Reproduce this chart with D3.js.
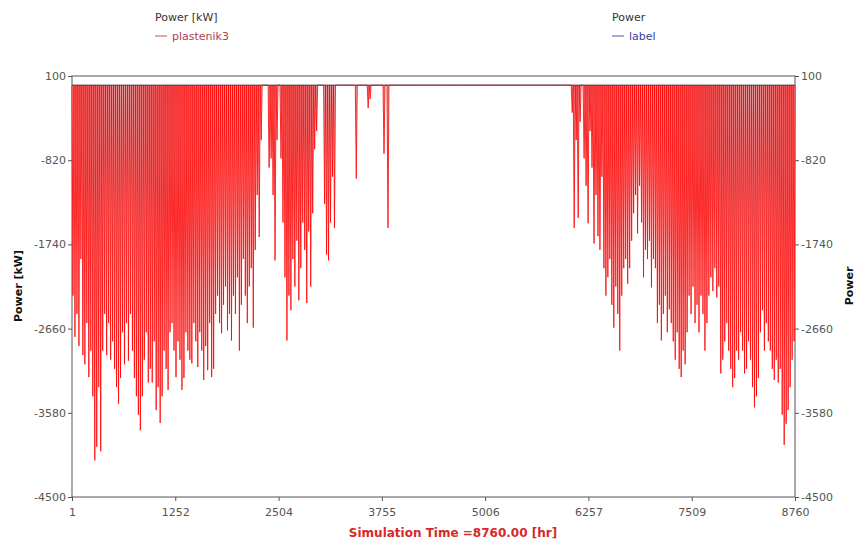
<!DOCTYPE html>
<html><head><meta charset="utf-8">
<script src="https://cdn.jsdelivr.net/npm/d3@7"></script>
<style>
html,body{margin:0;padding:0;background:#fff;}
svg{display:block;font-family:"DejaVu Sans",Verdana,sans-serif;}
</style></head>
<body>
<svg id="chart" width="856" height="540"></svg>
<script>
// ---- data ----
const xTickLabels = ["1","1252","2504","3755","5006","6257","7509","8760"];
const yTickLabels = ["100","-820","-1740","-2660","-3580","-4500"];
const xDomain = [1, 8760];
const yDomain = [-4500, 100];
// daily peak heating power of "plastenik3" [kW], one value per day (365 days)
const dailyPeakKW = [
  -2300,-2750,-2500,-2850,-1900,-2950,-3050,-2600,-3190,-2900,
  -3400,-4100,-3950,-3300,-4000,-2900,-2500,-2950,-2600,-3000,
  -2800,-3100,-3300,-3480,-3200,-2700,-3050,-2600,-3010,-2500,
  -2900,-3200,-3400,-3600,-3770,-3400,-3000,-2700,-3250,-3100,
  -3250,-2800,-3550,-3300,-3690,-3400,-2900,-3100,-3330,-2700,
  -2600,-2900,-3190,-2800,-3000,-3330,-3200,-2700,-2900,-3000,
  -3040,-2600,-2800,-3080,-2700,-2900,-3220,-2850,-3115,-2600,
  -3190,-3100,-2500,-2300,-2600,-2710,-2400,-2200,-2680,-2500,
  -2790,-2300,-2500,-2100,-2900,-2400,-1900,-2300,-2600,-2200,
  -2000,-2650,-1800,-1200,-1660,-600,0,0,0,-900,
  -800,-1200,-1915,-600,0,-800,-1500,-2100,-2790,-2300,
  -2460,-1900,-2200,-1700,-2350,-2000,-1500,-1800,-2380,-1600,
  -2200,-1400,-700,-500,0,0,0,-1300,-1850,-1915,
  -1500,-1000,-1560,0,0,0,0,0,0,0,
  0,0,0,-1020,0,0,0,0,0,-250,
  -150,0,0,0,0,0,0,-750,0,-1560,
  0,0,0,0,0,0,0,0,0,0,
  0,0,0,0,0,0,0,0,0,0,
  0,0,0,0,0,0,0,0,0,0,
  0,0,0,0,0,0,0,0,0,0,
  0,0,0,0,0,0,0,0,0,0,
  0,0,0,0,0,0,0,0,0,0,
  0,0,0,0,0,0,0,0,0,0,
  0,0,0,0,0,0,0,0,0,0,
  0,0,0,0,0,0,0,0,0,0,
  0,0,-300,-1560,-600,-1450,-400,0,-800,-1100,
  -1510,-500,-900,-1730,-1200,-1650,-1800,-1000,-2000,-2300,
  -2100,-1900,-2400,-2650,-2200,-2500,-2900,-2300,-2000,-1900,
  -2170,-2000,-1700,-1400,-1200,-1620,-1100,-1500,-2100,-1800,
  -1900,-1700,-2210,-1900,-2000,-2600,-2400,-2790,-2500,-2300,
  -2700,-2450,-2600,-2800,-3000,-2700,-3100,-3190,-2900,-3050,
  -2700,-2300,-2500,-2200,-2600,-2400,-2700,-2300,-2500,-2900,
  -2600,-2300,-2100,-2250,-2000,-2320,-2200,-3150,-3000,-2800,
  -2600,-2900,-3100,-3300,-3200,-2900,-3000,-2700,-2900,-3150,
  -3100,-2800,-3000,-3300,-3520,-3400,-3200,-2700,-2460,-2900,
  -2600,-2800,-2900,-3100,-3220,-3000,-3250,-3100,-3600,-3930,
  -3700,-3550,-3300,-3000,-2800
];
// second series "label" (right axis): constant level
const labelHours = [1, 8760];
const labelValues = [0, 0];

// ---- layout ----
const svg = d3.select("#chart");
const L = 72, R = 795, T = 76, B = 497;
const x = d3.scaleLinear().domain(xDomain).range([L, R]);
const y = d3.scaleLinear().domain(yDomain).range([B, T]);

// frame
svg.append("rect").attr("x", L).attr("y", T).attr("width", R - L).attr("height", B - T)
  .attr("fill", "#fff").attr("stroke", "#555").attr("stroke-width", 1);

// series plastenik3 : one night-time heating peak per day
const pts = [];
dailyPeakKW.forEach((v, d) => {
  pts.push([d * 24 + 1, 0]);
  pts.push([d * 24 + 13, v]);
});
pts.push([8760, 0]);
const line = d3.line().x(p => x(p[0])).y(p => y(p[1]));
const area = d3.area().x(p => x(p[0])).y0(y(0)).y1(p => y(p[1]));
svg.append("path").datum(pts).attr("d", area)
  .attr("fill", "#e0a0a2").attr("stroke", "none");
svg.append("path").datum(pts).attr("d", line)
  .attr("fill", "none").attr("stroke", "#ff0000").attr("stroke-width", 0.8);

// series label
svg.append("path").datum(labelHours.map((h, i) => [h, labelValues[i]])).attr("d", line)
  .attr("fill", "none").attr("stroke", "#3a3a4a").attr("stroke-width", 1);

// axes
const yTickVals = yTickLabels.map(Number);
const xTickVals = xTickLabels.map(Number);
const axL = d3.axisLeft(y).tickValues(yTickVals).tickFormat((d, i) => yTickLabels[i]).tickSize(4).tickPadding(2);
const axR = d3.axisRight(y).tickValues(yTickVals).tickFormat((d, i) => yTickLabels[i]).tickSize(4).tickPadding(2);
const axB = d3.axisBottom(x).tickValues(xTickVals).tickFormat((d, i) => xTickLabels[i]).tickSize(4).tickPadding(7);
function styleAxis(g) {
  g.select(".domain").remove();
  g.selectAll(".tick line").attr("stroke", "#555");
  g.selectAll("text").attr("fill", "#555").style("font-size", "11px").style("font-family", "'DejaVu Sans',Verdana,sans-serif");
}
svg.append("g").attr("transform", `translate(${L},0)`).call(axL).call(styleAxis);
svg.append("g").attr("transform", `translate(${R},0)`).call(axR).call(styleAxis);
svg.append("g").attr("transform", `translate(0,${B})`).call(axB).call(styleAxis);

// axis titles
svg.append("text").attr("transform", "translate(22,286) rotate(-90)").attr("text-anchor", "middle")
  .style("font-size", "11px").style("font-weight", "bold").attr("fill", "#111").text("Power [kW]");
svg.append("text").attr("transform", "translate(853,286) rotate(-90)").attr("text-anchor", "middle")
  .style("font-size", "11px").style("font-weight", "bold").attr("fill", "#111").text("Power");
svg.append("text").attr("x", 453).attr("y", 537).attr("text-anchor", "middle")
  .style("font-size", "12px").style("font-weight", "bold").attr("fill", "#d42a2a")
  .text("Simulation Time =8760.00 [hr]");

// legends
svg.append("text").attr("x", 155).attr("y", 21).style("font-size", "11px").attr("fill", "#333").text("Power [kW]");
svg.append("line").attr("x1", 155).attr("x2", 167).attr("y1", 36).attr("y2", 36).attr("stroke", "#c05060");
svg.append("text").attr("x", 172).attr("y", 40).style("font-size", "11px").attr("fill", "#b04050").text("plastenik3");
svg.append("text").attr("x", 612).attr("y", 21).style("font-size", "11px").attr("fill", "#333").text("Power");
svg.append("line").attr("x1", 612).attr("x2", 624).attr("y1", 36).attr("y2", 36).attr("stroke", "#5050a0");
svg.append("text").attr("x", 629).attr("y", 40).style("font-size", "11px").attr("fill", "#4040a0").text("label");
</script>
</body></html>
